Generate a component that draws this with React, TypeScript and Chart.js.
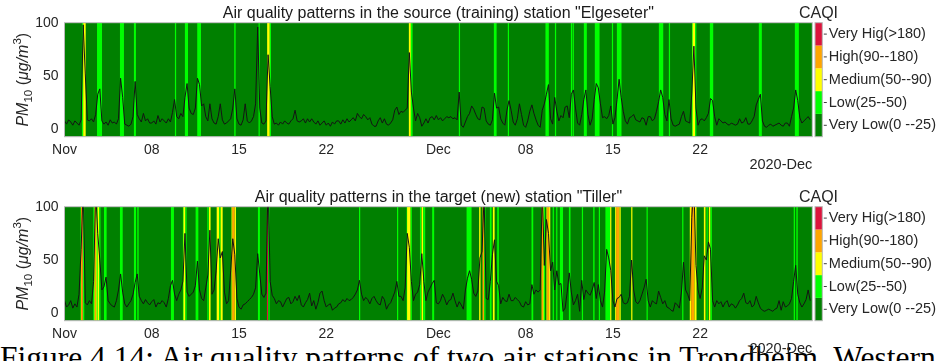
import React, { useEffect, useRef } from 'react';
import { Chart, registerables } from 'chart.js';

Chart.register(...registerables);

const FONT = "'Liberation Sans', Arial, Helvetica, sans-serif";
const TEXT = '#262626';

// Samples are every 4 hours starting 2020-11-01 00:00; x is in days since then.
const STEP_HOURS = 4;
const tickDays = [0, 7, 14, 21, 30, 37, 44, 51];
const tickLabels = ['Nov', '08', '15', '22', 'Dec', '08', '15', '22'];
const yTicks = [0, 50, 100];

const caqiLabels = ['Very Low(0 --25)', 'Low(25--50)', 'Medium(50--90)', 'High(90--180)', 'Very Hig(>180)'];
const caqiColors = ['#008000', '#00ff00', '#ffff00', '#ffa500', '#dc143c'];

// PM10 (µg/m3), one row per day, 6 samples per day
const elgeseterPM10 = [
  8, 5, 9, 7, 4, 8,
  6, 4, 9, 98, 52, 9,
  8, 10, 7, 14, 33, 38,
  8, 5, 7, 4, 9, 6,
  7, 5, 10, 48, 30, 5,
  4, 3, 5, 12, 45, 14,
  10, 7, 15, 8, 10, 6,
  6, 8, 5, 13, 7, 10,
  8, 6, 10, 7, 16, 28,
  12, 10, 15, 12, 30, 43,
  20, 15, 14, 20, 48, 42,
  22, 24, 12, 8, 24, 10,
  6, 5, 12, 24, 9, 5,
  6, 8, 10, 20, 38, 10,
  5, 4, 9, 24, 8, 6,
  8, 12, 24, 96, 20, 6,
  5, 8, 70, 40, 12, 5,
  6, 4, 7, 5, 8, 6,
  5, 8, 10, 18, 8, 7,
  8, 10, 6, 10, 7, 10,
  7, 5, 8, 4, 6, 8,
  4, 6, 3, 7, 5, 8,
  8, 5, 9, 6, 10, 7,
  9, 11, 8, 15, 12, 10,
  14, 12, 9, 11, 5, 3,
  3, 8, 11, 6, 10, 5,
  4, 6, 9, 18, 21, 14,
  17, 16, 18, 20, 72, 35,
  20, 8, 15, 11, 3, 6,
  10, 6, 11, 12, 9, 13,
  9, 11, 8, 10, 12, 11,
  12, 10, 11, 9, 35, 4,
  2, 7, 12, 15, 22, 19,
  14, 10, 9, 21, 20, 8,
  5, 4, 9, 34, 20, 21,
  10, 6, 4, 18, 27, 18,
  7, 4, 10, 24, 14, 4,
  2, 8, 17, 23, 15, 9,
  4, 2, 18, 24, 33, 42,
  10, 5, 30, 17, 8, 13,
  11, 21, 22, 11, 33, 37,
  20, 6, 4, 14, 28, 37,
  14, 4, 10, 28, 43, 39,
  24, 11, 12, 10, 13, 22,
  5, 11, 28, 47, 30, 17,
  8, 5, 11, 12, 14, 9,
  8, 7, 11, 10, 4, 12,
  12, 8, 10, 17, 26, 37,
  30, 14, 8, 28, 10, 4,
  3, 4, 5, 12, 17, 8,
  7, 6, 34, 78, 20, 4,
  9, 10, 8, 11, 15, 29,
  27, 12, 4, 10, 8, 6,
  7, 5, 4, 6, 5, 4,
  5, 10, 6, 7, 11, 5,
  5, 8, 12, 23, 28, 33,
  8, 3, 2, 4, 5, 3,
  4, 5, 6, 4, 3, 6,
  6, 3, 12, 20, 37, 27,
  11, 6, 8, 10, 12, 9,
];

const tillerPM10 = [
  12, 6, 8, 12, 5, 9,
  6, 18, 60, 120, 10, 8,
  12, 9, 30, 115, 75, 50,
  22, 25, 34, 12, 9, 7,
  6, 12, 22, 37, 20, 9,
  6, 9, 12, 18, 29, 37,
  16, 12, 9, 13, 10, 8,
  11, 13, 6, 10, 9, 12,
  10, 6, 14, 26, 31, 18,
  12, 18, 22, 30, 75, 20,
  16, 18, 20, 26, 49, 22,
  14, 12, 24, 36, 78, 18,
  22, 40, 70, 52, 58, 20,
  9, 12, 40, 70, 55, 14,
  6, 4, 8, 9, 11, 13,
  15, 18, 24, 56, 37, 18,
  15, 19, 125, 30, 17, 14,
  9, 12, 11, 6, 10, 14,
  15, 9, 11, 16, 12, 17,
  8, 6, 10, 13, 19, 7,
  12, 4, 10, 19, 21, 12,
  6, 8, 9, 3, 5, 6,
  9, 10, 13, 11, 14, 12,
  13, 15, 18, 22, 31, 18,
  12, 15, 13, 9, 14, 16,
  12, 9, 8, 16, 13, 4,
  8, 10, 15, 20, 30, 16,
  16, 12, 24, 75, 62, 30,
  12, 18, 20, 27, 56, 30,
  12, 20, 24, 28, 31, 10,
  9, 12, 18, 14, 8, 12,
  13, 19, 12, 6, 11, 8,
  4, 22, 33, 40, 32, 19,
  16, 21, 52, 58, 110, 14,
  13, 30, 55, 69, 30, 26,
  9, 15, 12, 11, 18, 12,
  12, 15, 13, 11, 7, 6,
  11, 8, 9, 27, 18, 22,
  20, 22, 115, 45, 88, 75,
  40, 48, 22, 40, 27, 28,
  2, 5, 20, 38, 20, 8,
  12, 18, 2, 31, 13, 22,
  19, 17, 22, 29, 14, 27,
  12, 6, 20, 60, 52, 40,
  12, 6, 14, 15, 18, 10,
  9, 10, 16, 50, 22, 11,
  9, 12, 18, 24, 32, 12,
  6, 12, 10, 9, 21, 15,
  9, 12, 6, 5, 3, 2,
  10, 8, 5, 20, 48, 22,
  18, 12, 90, 120, 45, 22,
  14, 24, 54, 50, 67, 60,
  12, 6, 12, 9, 11, 6,
  10, 12, 6, 9, 8, 5,
  8, 12, 14, 19, 10, 9,
  12, 6, 8, 16, 10, 5,
  3, 2, 3, 4, 3, 2,
  4, 5, 12, 3, 11, 6,
  7, 9, 14, 30, 45, 18,
  10, 6, 9, 13, 22, 12,
];

// CAQI class periods: [start day, end day, class index]; everything else is "Very Low"
const elgeseterBands: [number, number, number][] = [
  [1.40, 1.50, 1], [1.50, 1.70, 2], [2.61, 3.01, 1], [4.45, 4.77, 1], [5.57, 5.73, 1],
  [8.86, 8.92, 1], [9.66, 9.91, 1], [10.65, 10.95, 1], [13.62, 13.73, 1], [15.57, 15.65, 1],
  [16.26, 16.47, 2], [16.47, 16.55, 1], [27.63, 27.79, 2], [27.79, 27.93, 1], [31.64, 31.72, 1],
  [34.45, 34.67, 1], [35.57, 35.65, 1], [38.59, 38.86, 1], [39.35, 39.43, 1], [40.63, 40.71, 1],
  [40.77, 40.84, 1], [41.67, 41.91, 1], [42.55, 42.93, 1], [43.92, 43.97, 1], [44.32, 44.69, 1],
  [47.69, 48.04, 1], [48.49, 48.55, 1], [50.35, 50.40, 1], [50.40, 50.60, 2], [50.60, 50.64, 1],
  [51.78, 52.05, 1], [55.71, 55.95, 1], [58.60, 58.92, 1],
];

const tillerBands: [number, number, number][] = [
  [1.28, 1.32, 1], [1.32, 1.42, 3], [1.42, 1.45, 4], [1.45, 1.49, 2], [1.49, 1.52, 1],
  [2.31, 2.40, 1], [2.40, 2.45, 2], [2.45, 2.53, 3], [2.53, 2.58, 2], [2.58, 2.66, 1], [2.66, 2.79, 2], [2.79, 2.84, 1],
  [3.17, 3.38, 1], [4.45, 4.67, 1], [5.57, 5.74, 1], [5.84, 5.95, 1], [8.54, 8.78, 1],
  [9.50, 9.55, 1], [9.55, 9.70, 2], [9.70, 9.75, 1], [10.52, 10.74, 1],
  [11.46, 11.56, 1], [11.59, 11.72, 2],
  [12.21, 12.42, 2], [12.42, 12.53, 1], [12.53, 12.69, 2],
  [13.40, 13.46, 2], [13.46, 13.66, 3], [13.66, 13.72, 2],
  [15.52, 15.68, 1], [16.24, 16.30, 4], [16.36, 16.43, 1],
  [23.63, 23.67, 1], [26.68, 26.72, 1],
  [27.45, 27.49, 1], [27.49, 27.77, 2], [27.77, 27.85, 1],
  [28.52, 28.60, 1], [28.65, 28.78, 2], [28.78, 28.94, 1],
  [29.50, 29.66, 1], [32.26, 32.66, 1],
  [33.27, 33.38, 2], [33.54, 33.68, 3], [33.68, 33.76, 1],
  [34.13, 34.27, 1], [34.37, 34.51, 2], [34.72, 34.85, 1],
  [37.47, 37.61, 1],
  [38.27, 38.40, 3], [38.40, 38.45, 2], [38.45, 38.55, 1], [38.67, 38.73, 2], [38.73, 38.88, 3], [38.88, 38.93, 2],
  [39.17, 39.22, 1], [39.45, 39.50, 1], [39.75, 40.00, 1],
  [40.47, 40.60, 1], [41.51, 41.59, 1], [42.42, 42.53, 1], [42.87, 42.95, 1],
  [43.40, 43.78, 1], [43.78, 43.83, 2],
  [44.18, 44.26, 2], [44.26, 44.53, 3], [44.53, 44.58, 2],
  [45.47, 45.55, 2], [46.70, 46.76, 1], [49.56, 49.64, 1],
  [50.17, 50.28, 2], [50.28, 50.55, 3], [50.55, 50.71, 2],
  [51.30, 51.43, 2], [51.51, 51.59, 1], [51.70, 51.83, 2], [51.83, 51.94, 1],
  [58.51, 58.59, 1], [58.72, 58.83, 1],
];

const panels = [
  { title: 'Air quality patterns in the source (training) station "Elgeseter"', values: elgeseterPM10, bands: elgeseterBands, top: 0 },
  { title: 'Air quality patterns in the target (new) station "Tiller"', values: tillerPM10, bands: tillerBands, top: 184 },
];

const CAPTION = 'Figure 4.14: Air quality patterns of two air stations in Trondheim, Western';

function drawYLabel(ctx: CanvasRenderingContext2D, cx: number, cy: number) {
  const runs = [
    { t: 'PM', font: `italic 16px ${FONT}`, dy: 0 },
    { t: '10', font: `11.5px ${FONT}`, dy: 4 },
    { t: ' (', font: `16px ${FONT}`, dy: 0 },
    { t: '\u03bcg/m', font: `italic 16px ${FONT}`, dy: 0 },
    { t: '3', font: `11.5px ${FONT}`, dy: -7 },
    { t: ')', font: `16px ${FONT}`, dy: 0 },
  ];
  let total = 0;
  const widths = runs.map((r) => {
    ctx.font = r.font;
    const w = ctx.measureText(r.t).width;
    total += w;
    return w;
  });
  ctx.save();
  ctx.translate(cx, cy);
  ctx.rotate(-Math.PI / 2);
  ctx.textAlign = 'left';
  ctx.textBaseline = 'alphabetic';
  ctx.fillStyle = TEXT;
  let x = -total / 2;
  runs.forEach((r, i) => {
    ctx.font = r.font;
    ctx.fillText(r.t, x, r.dy);
    x += widths[i];
  });
  ctx.restore();
}

function AqiPanel({ title, values, bands, top }: { title: string; values: number[]; bands: [number, number, number][]; top: number }) {
  const ref = useRef<HTMLCanvasElement>(null);

  useEffect(() => {
    const canvas = ref.current;
    if (!canvas) return;
    const points = values.map((v, i) => ({ x: (i * STEP_HOURS) / 24, y: v }));

    const decor = {
      id: 'caqiDecor',
      beforeDatasetsDraw(chart: any) {
        const { ctx, chartArea: a, scales } = chart;
        const xs = scales.x;
        ctx.save();
        ctx.beginPath();
        ctx.rect(a.left, a.top, a.right - a.left, a.bottom - a.top);
        ctx.clip();
        ctx.fillStyle = caqiColors[0];
        ctx.fillRect(a.left, a.top, a.right - a.left, a.bottom - a.top);
        for (const [s, e, lvl] of bands) {
          const x0 = xs.getPixelForValue(s);
          const x1 = xs.getPixelForValue(e);
          ctx.fillStyle = caqiColors[lvl];
          ctx.fillRect(x0, a.top, Math.max(1.2, x1 - x0), a.bottom - a.top);
        }
        ctx.restore();
      },
      afterDraw(chart: any) {
        const { ctx, chartArea: a } = chart;
        ctx.save();
        ctx.strokeStyle = '#b8b8b8';
        ctx.lineWidth = 1;
        ctx.strokeRect(a.left, a.top, a.right - a.left, a.bottom - a.top);

        ctx.fillStyle = '#1a1a1a';
        ctx.font = `16px ${FONT}`;
        ctx.textAlign = 'center';
        ctx.textBaseline = 'middle';
        ctx.fillText(title, (a.left + a.right) / 2, a.top - 9.5);

        // colour bar with CAQI classes
        const cbL = a.right + 2.7;
        const cbW = 7.3;
        const segH = (a.bottom - a.top) / caqiColors.length;
        caqiColors.forEach((c, i) => {
          ctx.fillStyle = c;
          ctx.fillRect(cbL, a.bottom - (i + 1) * segH, cbW, segH);
        });
        ctx.strokeStyle = '#b8b8b8';
        ctx.strokeRect(cbL, a.top, cbW, a.bottom - a.top);
        ctx.font = `14.5px ${FONT}`;
        ctx.textAlign = 'left';
        ctx.fillStyle = TEXT;
        ctx.strokeStyle = '#404040';
        caqiLabels.forEach((lab, i) => {
          const cy = a.bottom - (i + 0.5) * segH;
          ctx.beginPath();
          ctx.moveTo(cbL + cbW + 1.5, cy);
          ctx.lineTo(cbL + cbW + 4.5, cy);
          ctx.stroke();
          ctx.fillText(lab, cbL + cbW + 6.5, cy);
        });
        ctx.font = `16px ${FONT}`;
        ctx.textAlign = 'center';
        ctx.fillText('CAQI', cbL + 3.5, a.top - 9);

        ctx.font = `14.5px ${FONT}`;
        ctx.textAlign = 'right';
        ctx.fillText('2020-Dec', a.right, a.bottom + 28);

        drawYLabel(ctx, 28, (a.top + a.bottom) / 2);
        ctx.restore();
      },
    };

    const chart = new Chart(canvas, {
      type: 'line',
      data: {
        datasets: [
          {
            data: points,
            borderColor: '#141414',
            borderWidth: 1,
            pointRadius: 0,
            tension: 0,
            fill: false,
          },
        ],
      },
      options: {
        animation: false,
        responsive: false,
        devicePixelRatio: 1,
        layout: { padding: { left: 0, right: 943 - 812.3, top: 22.7, bottom: 0 } },
        plugins: { legend: { display: false }, tooltip: { enabled: false }, title: { display: false } },
        scales: {
          x: {
            type: 'linear',
            min: 0,
            max: 60,
            grid: { display: false, drawTicks: false },
            border: { display: false },
            afterBuildTicks: (s: any) => {
              s.ticks = tickDays.map((v) => ({ value: v }));
            },
            afterFit: (s: any) => {
              s.height = 43.3;
            },
            ticks: {
              autoSkip: false,
              maxRotation: 0,
              padding: 5.5,
              color: TEXT,
              font: { family: FONT, size: 14 },
              callback: (v: any) => {
                const i = tickDays.indexOf(Number(v));
                return i >= 0 ? tickLabels[i] : '';
              },
            },
          },
          y: {
            min: -6.8,
            max: 100,
            grid: { display: false, drawTicks: false },
            border: { display: false },
            afterBuildTicks: (s: any) => {
              s.ticks = yTicks.map((v) => ({ value: v }));
            },
            afterFit: (s: any) => {
              s.width = 64.5;
            },
            ticks: { padding: 6, color: TEXT, font: { family: FONT, size: 14 } },
          },
        },
      },
      plugins: [decor],
    } as any);

    return () => chart.destroy();
  }, [title, values, bands]);

  return (
    <canvas
      ref={ref}
      width={943}
      height={180}
      style={{ position: 'absolute', left: 0, top, width: 943, height: 180, display: 'block' }}
    />
  );
}

export default function App() {
  return (
    <div style={{ position: 'fixed', left: 0, top: 0, width: 943, height: 361, overflow: 'hidden', background: '#fff' }}>
      <div
        style={{
          position: 'absolute',
          left: 0,
          top: 342,
          fontFamily: "'Liberation Serif', 'Times New Roman', serif",
          fontSize: 31.5,
          lineHeight: '31.5px',
          whiteSpace: 'nowrap',
          color: '#000',
        }}
      >
        {CAPTION}
      </div>
      {panels.map((p) => (
        <AqiPanel key={p.title} title={p.title} values={p.values} bands={p.bands} top={p.top} />
      ))}
    </div>
  );
}
